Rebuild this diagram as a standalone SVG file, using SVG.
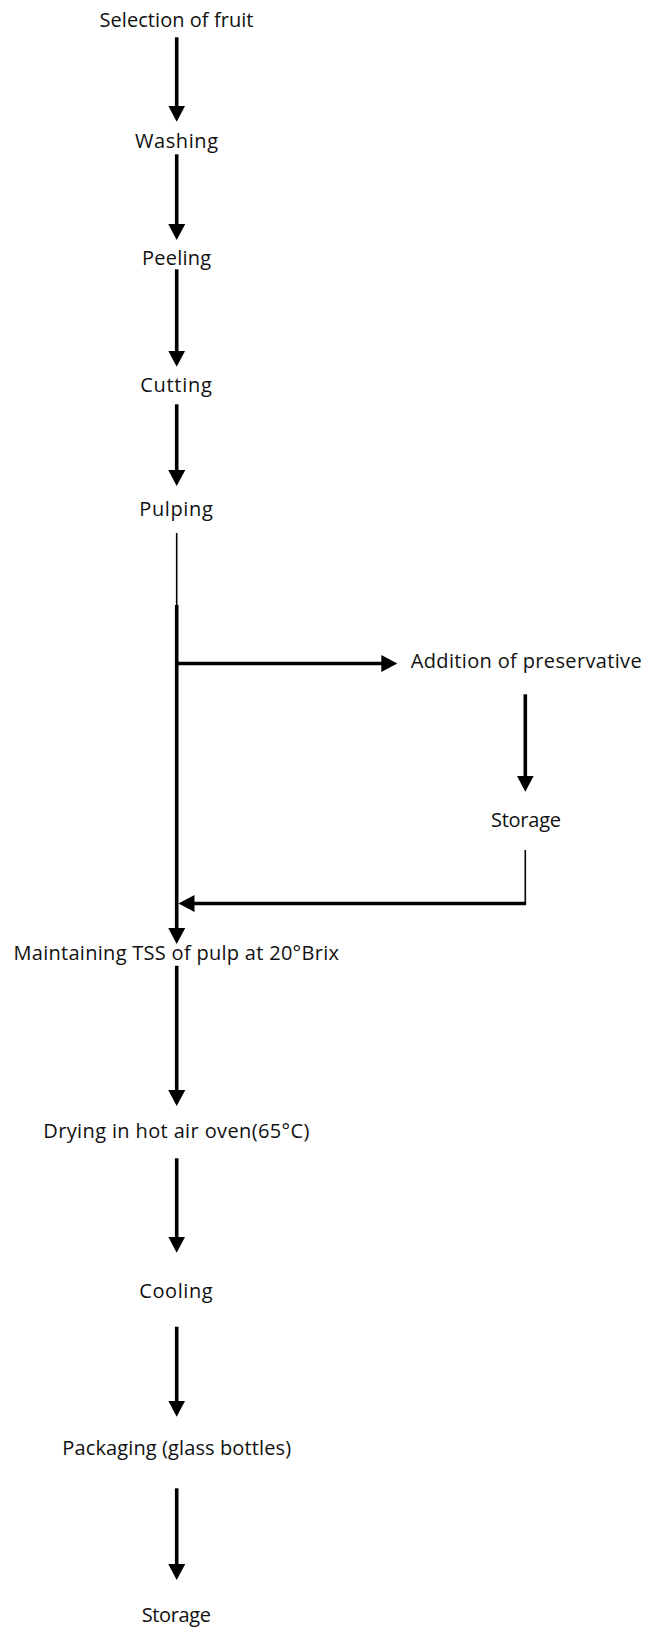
<svg xmlns="http://www.w3.org/2000/svg" width="647" height="1627" viewBox="0 0 647 1627">
<style>
  .t { font-family: "Open Sans", "Liberation Sans", sans-serif; font-size: 20px; fill: #111; text-anchor: middle; }
  .a { stroke: #000; stroke-width: 3.6; fill: none; marker-end: url(#ah); }
  .th { stroke: #000; stroke-width: 1.6; fill: none; }
</style>
<defs>
  <marker id="ah" markerUnits="userSpaceOnUse" markerWidth="17" markerHeight="17" refX="8" refY="8.5" orient="auto">
    <path d="M0,0 L16,8.5 L0,17 z" fill="#000"/>
  </marker>
</defs>
<rect width="647" height="1627" fill="#fff"/>
<g id="connectors">
  <line class="a" x1="176.7" y1="37.3" x2="176.7" y2="113.7"/>
  <line class="a" x1="176.7" y1="154.3" x2="176.7" y2="232"/>
  <line class="a" x1="176.7" y1="269.3" x2="176.7" y2="358.7"/>
  <line class="a" x1="176.7" y1="404.3" x2="176.7" y2="478"/>
  <line class="th" x1="176.7" y1="533" x2="176.7" y2="606"/>
  <line class="a" x1="176.7" y1="605" x2="176.7" y2="936"/>
  <line class="a" x1="176.7" y1="663.5" x2="389.3" y2="663.5"/>
  <line class="a" x1="525.3" y1="694.3" x2="525.3" y2="783.7"/>
  <line class="th" x1="525.3" y1="850" x2="525.3" y2="904"/>
  <line class="a" x1="526.1" y1="903.5" x2="186.5" y2="903.5"/>
  <line class="a" x1="176.7" y1="965.7" x2="176.7" y2="1098"/>
  <line class="a" x1="176.7" y1="1158.3" x2="176.7" y2="1244.7"/>
  <line class="a" x1="176.7" y1="1326.7" x2="176.7" y2="1408.7"/>
  <line class="a" x1="176.7" y1="1488.3" x2="176.7" y2="1572"/>
</g>
<g id="n1"><text class="t" x="176.5" y="26.7" textLength="154">Selection of fruit</text></g>
<g id="n2"><text class="t" x="176.5" y="148.3" textLength="83">Washing</text></g>
<g id="n3"><text class="t" x="176.5" y="265" textLength="69">Peeling</text></g>
<g id="n4"><text class="t" x="176" y="391.7" textLength="71.5">Cutting</text></g>
<g id="n5"><text class="t" x="176" y="516" textLength="73.5">Pulping</text></g>
<g id="n6"><text class="t" x="526.2" y="668.3" textLength="231">Addition of preservative</text></g>
<g id="n7"><text class="t" x="526" y="826.7" textLength="70">Storage</text></g>
<g id="n8"><text class="t" x="176.2" y="960" textLength="325.5">Maintaining TSS of pulp at 20°Brix</text></g>
<g id="n9"><text class="t" x="176.3" y="1137.7" textLength="266">Drying in hot air oven(65°C)</text></g>
<g id="n10"><text class="t" x="176" y="1298.3" textLength="73.4">Cooling</text></g>
<g id="n11"><text class="t" x="176.7" y="1455" textLength="228.7">Packaging (glass bottles)</text></g>
<g id="n12"><text class="t" x="176.3" y="1621.7" textLength="69.3">Storage</text></g>
</svg>
